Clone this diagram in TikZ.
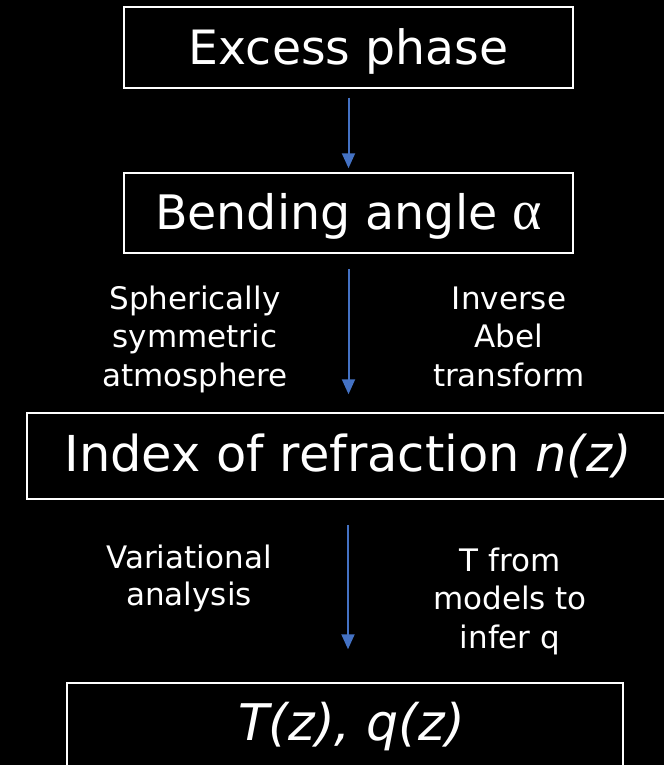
\documentclass[tikz,border=0pt]{standalone}
\usepackage{fontspec}
\setmainfont{DejaVu Sans}
\newfontfamily\alphafont{Liberation Serif}
\usetikzlibrary{arrows.meta}
\definecolor{arrowblue}{HTML}{4472C4}
\begin{document}
\begin{tikzpicture}[x=1pt,y=-1pt,
  box/.style={draw=white, line width=1.5pt, text=white, inner sep=0pt, anchor=base},
  lbl/.style={text=white, align=center, anchor=base, inner sep=0pt},
  flow/.style={draw=arrowblue, line width=2pt, -{Triangle[length=15pt,width=13pt]}}]
\fill[black] (0,0) rectangle (664,765);
\clip (0,0) rectangle (664,765);
\node[box, minimum width=449pt, text height=58pt, text depth=23pt, font=\fontsize{47.3}{56}\selectfont] (b1) at (348.5,65) {Excess phase};
\node[box, minimum width=449pt, text height=56pt, text depth=24pt, font=\fontsize{47.5}{54}\selectfont] (b2) at (348.5,229) {Bending angle {\alphafont\fontsize{56}{60}\selectfont α}};
\node[box, minimum width=642pt, text height=58pt, text depth=28pt, font=\fontsize{49.5}{56}\selectfont] (b3) at (348,471) {Index of refraction \textit{n(z)}};
\node[box, minimum width=556pt, text height=57pt, text depth=40pt, font=\fontsize{50.5}{56}\selectfont] (b4) at (345,740) {\hspace*{13pt}\textit{T(z), q(z)}};
\node[lbl, font=\fontsize{31}{38.5}\selectfont] (l1) at (195,386) {Spherically\\symmetric\\atmosphere};
\node[lbl, font=\fontsize{31}{38.5}\selectfont] (r1) at (509,386) {Inverse\\Abel\\transform};
\node[lbl, font=\fontsize{31}{37}\selectfont] (l2) at (189,605) {Variational\\analysis};
\node[lbl, font=\fontsize{31}{38.5}\selectfont] (r2) at (510,648) {T from\\models to\\infer q};
\draw[flow, shorten <=9pt, shorten >=4pt] (b1.south) -- (b2.north);
\draw[flow, shorten <=15pt, shorten >=18pt] (b2.south) -- (b2.south |- b3.north);
\draw[flow, shorten <=25pt, shorten >=33pt] (b3.south) -- (b3.south |- b4.north);
\end{tikzpicture}
\end{document}
